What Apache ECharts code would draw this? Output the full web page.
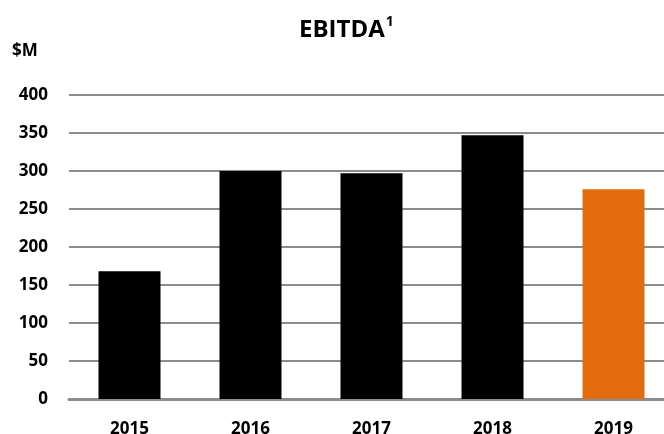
<!DOCTYPE html>
<html>
<head>
<meta charset="utf-8">
<script src="https://cdn.jsdelivr.net/npm/echarts@6/dist/echarts.min.js"></script>
<style>
  html, body { margin: 0; padding: 0; background: #fff; }
  #chart { width: 664px; height: 434px; }
</style>
</head>
<body>
<div id="chart"></div>
<script>
// EBITDA by year, $M
const years = ['2015', '2016', '2017', '2018', '2019'];
const ebitda = [168, 300, 297, 347, 276];
const yTicks = [0, 50, 100, 150, 200, 250, 300, 350, 400];

const FONT = '"Open Sans", "Liberation Sans", sans-serif';
const BLACK = '#000000';
const ORANGE = '#E36C0E';

const chart = echarts.init(document.getElementById('chart'), null, { renderer: 'canvas' });

chart.setOption({
  animation: false,
  backgroundColor: '#ffffff',
  title: {
    text: '{m|EBITDA}{s|1}',
    left: 294,
    top: 10,
    textStyle: {
      rich: {
        m: { fontFamily: FONT, fontWeight: 'bold', fontSize: 24, color: '#000', lineHeight: 30 },
        s: { fontFamily: FONT, fontWeight: 'bold', fontSize: 14, color: '#000', verticalAlign: 'top', lineHeight: 30, padding: [0, 0, 10, 1] }
      }
    }
  },
  graphic: [{
    type: 'text',
    left: 12,
    top: 43,
    style: { text: '$M', fontFamily: FONT, fontWeight: 'bold', fontSize: 17, fill: '#000' }
  }],
  // the plot runs a little past the right edge of the canvas
  grid: { left: 69, top: 95, width: 605, height: 304, containLabel: false, outerBoundsMode: 'none' },
  xAxis: {
    type: 'category',
    data: years,
    axisTick: { show: false },
    axisLine: { show: true, lineStyle: { color: '#8c8c8c', width: 3 } },
    axisLabel: { margin: 22, fontFamily: FONT, fontWeight: 'bold', fontSize: 17, color: '#000' }
  },
  yAxis: {
    type: 'value',
    min: yTicks[0],
    max: yTicks[yTicks.length - 1],
    interval: 50,
    axisLine: { show: false },
    axisTick: { show: false },
    axisLabel: { margin: 21, fontFamily: FONT, fontWeight: 'bold', fontSize: 17, color: '#000' },
    splitLine: { show: true, lineStyle: { color: '#8c8c8c', width: 2 } }
  },
  series: [{
    type: 'bar',
    data: ebitda.map((v, i) => ({
      value: v,
      itemStyle: { color: years[i] === '2019' ? ORANGE : BLACK }
    })),
    barWidth: 62,
    itemStyle: { borderWidth: 0 }
  }]
});
</script>
</body>
</html>
